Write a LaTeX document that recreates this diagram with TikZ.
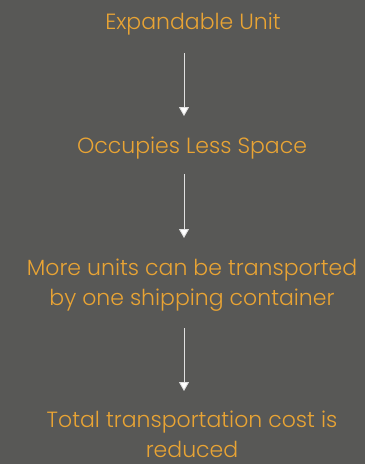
\documentclass[tikz,border=0pt]{standalone}
\usepackage{fontspec}
\setmainfont{Poppins}[UprightFont={* Light}]
\usetikzlibrary{arrows.meta}
\definecolor{bg}{HTML}{585856}
\definecolor{txt}{HTML}{E9A434}
\definecolor{arr}{HTML}{E0E0E0}
\begin{document}
\begin{tikzpicture}[x=1pt,y=-1pt,
  lbl/.style={text=txt,font=\fontsize{22}{30}\selectfont,align=center,inner sep=0pt},
  flow/.style={draw=arr,line width=0.9pt,-{Triangle[width=10pt,length=9pt,fill=white]}}]
\fill[bg] (0,0) rectangle (365,464);
\useasboundingbox (0,0) rectangle (365,464);
\node[lbl] (a) at (193,24) {Expandable Unit};
\node[lbl] (b) at (192,148) {Occupies Less Space};
\node[lbl] (c) at (192,285) {More units can be transported\\by one shipping container};
\node[lbl] (d) at (192,434) {Total transportation cost is\\reduced};
\coordinate (a1) at (184,53);
\coordinate (b0) at (184,116);
\coordinate (b1) at (184,174);
\coordinate (c0) at (184,238);
\coordinate (c1) at (184,328);
\coordinate (d0) at (184,391);
\draw[flow] (a1) -- (b0);
\draw[flow] (b1) -- (c0);
\draw[flow] (c1) -- (d0);
\end{tikzpicture}
\end{document}
